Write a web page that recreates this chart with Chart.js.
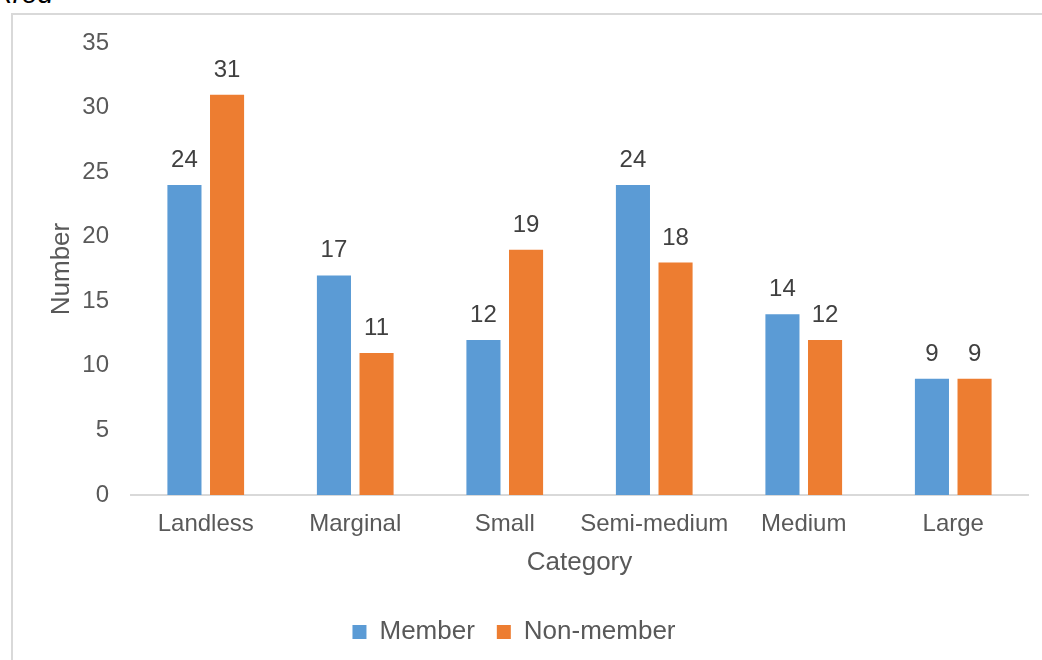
<!DOCTYPE html>
<html>
<head>
<meta charset="utf-8">
<script src="https://cdn.jsdelivr.net/npm/chart.js@4"></script>
<style>
  html, body { margin: 0; padding: 0; background: #fff; overflow: hidden; }
  #frame {
    position: absolute; left: 11px; top: 13px;
    width: 1100px; height: 700px;
    border: 2px solid #d9d9d9; box-sizing: border-box;
  }
  #cut-title {
    position: absolute; left: -6px; top: -22px;
    font: italic 28px "Liberation Sans", Arial, sans-serif; color: #000;
  }
  #wrap { position: absolute; left: 0; top: 0; width: 1042px; height: 660px; }
</style>
</head>
<body>
<div id="frame"></div>
<div id="cut-title">Xred</div>
<div id="wrap"><canvas id="landChart" width="1042" height="660"></canvas></div>
<script>
// =========================
// Data
// =========================
const categories = ["Landless", "Marginal", "Small", "Semi-medium", "Medium", "Large"];
const memberValues = [24, 17, 12, 24, 14, 9];
const nonMemberValues = [31, 11, 19, 18, 12, 9];
const yTicks = [0, 5, 10, 15, 20, 25, 30, 35];

const FONT = "'Liberation Sans', Arial, sans-serif";

// draws the number above each bar
const valueLabels = {
  id: "valueLabels",
  afterDatasetsDraw(chart) {
    const ctx = chart.ctx;
    ctx.save();
    ctx.font = "24px " + FONT;
    ctx.fillStyle = "#404040";
    ctx.textAlign = "center";
    ctx.textBaseline = "alphabetic";
    chart.data.datasets.forEach((ds, i) => {
      chart.getDatasetMeta(i).data.forEach((bar, j) => {
        ctx.fillText(String(ds.data[j]), bar.x, bar.y - 18);
      });
    });
    ctx.restore();
  },
};

new Chart(document.getElementById("landChart"), {
  type: "bar",
  data: {
    labels: categories,
    datasets: [
      {
        label: "Member",
        data: memberValues,
        backgroundColor: "#5B9BD5",
        categoryPercentage: 0.57,
        barPercentage: 0.8,
      },
      {
        label: "Non-member",
        data: nonMemberValues,
        backgroundColor: "#ED7D31",
        categoryPercentage: 0.57,
        barPercentage: 0.8,
      },
    ],
  },
  options: {
    responsive: false,
    animation: false,
    layout: { padding: { left: 0, right: 14, top: 43, bottom: 5 } },
    plugins: {
      legend: {
        position: "bottom",
        labels: {
          font: { family: FONT, size: 26 },
          color: "#595959",
          boxWidth: 14,
          boxHeight: 14,
          padding: 22,
        },
      },
      tooltip: { enabled: false },
    },
    scales: {
      x: {
        grid: { display: false, drawTicks: false },
        border: { display: true, color: "#d9d9d9", width: 2 },
        ticks: {
          font: { family: FONT, size: 24 },
          color: "#595959",
          padding: 15,
          maxRotation: 0,
          autoSkip: false,
        },
        title: {
          display: true,
          text: "Category",
          font: { family: FONT, size: 26 },
          color: "#595959",
          padding: { top: 0, bottom: 19 },
        },
        afterFit: (s) => { s.height = 102; },
      },
      y: {
        min: 0,
        max: 35,
        afterBuildTicks: (s) => { s.ticks = yTicks.map((v) => ({ value: v })); },
        grid: { display: false, drawTicks: false },
        border: { display: false },
        ticks: {
          font: { family: FONT, size: 24 },
          color: "#595959",
          padding: 22,
        },
        title: {
          display: true,
          text: "Number",
          font: { family: FONT, size: 26 },
          color: "#595959",
          padding: { top: 46, bottom: 0 },
        },
        afterFit: (s) => { s.width = 131; },
      },
    },
  },
  plugins: [valueLabels],
});
</script>
</body>
</html>
